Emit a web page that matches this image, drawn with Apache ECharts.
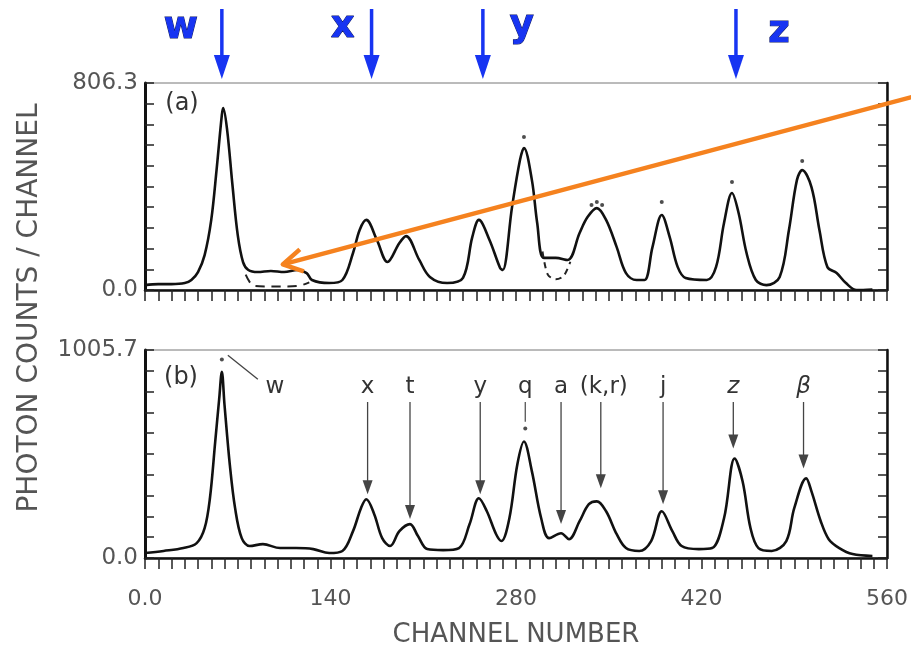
<!DOCTYPE html>
<html>
<head>
<meta charset="utf-8">
<script src="https://cdn.jsdelivr.net/npm/echarts@6/dist/echarts.min.js"></script>
<style>
  html, body { margin: 0; background: #fff; }
  #chart { width: 911px; height: 654px; }
</style>
</head>
<body>
<div id="chart"></div>
<script>
// panel (a): measured spectrum, channel / counts
const chA = [0,10,20,30,35,40,45,50,54,58,59,62,66,70,74,78,85,95,105,115,122,126,139,149,157,162,167,175,183,192,197,207,215,228,240,247,252,260,268,270,277,283,286,292,296,301,310,319,328,334,341,348,356,363,371,377,383,390,396,402,408,424,431,437,443,448,454,461,469,479,486,492,496,503,509,515,522,529,537,549]
const cntA = [19,23,23,27,39,70,136,273,467,682,709,623,409,214,109,78,70,74,70,78,66,39,27,39,144,234,273,195,109,183,210,117,51,27,47,206,273,195,86,78,323,506,553,428,261,125,125,117,222,284,319,273,167,66,39,39,167,292,206,90,47,39,90,261,378,300,144,39,19,51,234,428,467,401,234,90,66,27,0,2]
// panel (a): dashed fit where it leaves the data
const fitChA1 = [76,82,92,104,116,124]
const fitCntA1 = [60,16,14,14,16,30]
const fitChA2 = [300,304,310,316,321]
const fitCntA2 = [150,60,42,55,110]
// panel (a): single points above the peaks
const dotChA = [286,337,341,345,390,443,496]
const dotCntA = [596,331,343,331,343,421,502]

// panel (b)
const chB = [0,14,29,39,45,49,53,56,58,60,64,68,73,79,89,102,114,127,139,149,157,163,167,173,179,185,192,200,206,213,225,237,245,252,258,265,269,275,281,286,292,299,305,314,320,328,335,341,348,356,363,373,382,390,398,405,418,428,437,445,451,457,463,473,484,490,499,503,510,516,524,534,549]
const cntB = [24,34,48,72,144,289,563,770,900,741,452,241,96,58,67,48,48,43,24,34,130,241,284,212,96,58,130,164,106,43,38,48,164,289,226,115,82,192,452,563,419,192,96,120,91,178,260,274,226,115,48,34,82,226,130,58,43,48,192,481,371,144,48,34,82,241,385,322,178,91,48,19,10]
const dotChB = [58,287]
const dotCntB = [960,626]

// axes
const maxA = 806.3
const maxB = 1005.7
const xTickLabels = { 0: '0.0', 140: '140', 280: '280', 420: '420', 560: '560' }

// peak annotations
const topMarks = ['w', 'x', 'y', 'z']
const topMarkCh = [58, 171, 255, 446]
const bMarks = ['x', 't', 'y', 'q', 'a', '(k,r)', 'j', 'z', 'β']
const bMarkCh = [168, 200, 253, 287, 314, 344, 391, 444, 497]
const bMarkTip = [308, 188, 308, 659, 164, 337, 260, 529, 433]

const FONT = 'DejaVu Sans'
const pairs = (xs, ys) => xs.map((x, i) => [x, ys[i]])

const chart = echarts.init(document.getElementById('chart'))

function xAxisCfg(gi, labels) {
  return {
    type: 'value', gridIndex: gi, min: 0, max: 560, interval: 10,
    axisLine: { lineStyle: { color: '#111', width: 2.5 } },
    axisTick: { show: true, inside: false, length: 11, lineStyle: { color: '#222', width: 1.5 } },
    axisLabel: {
      show: labels, margin: 30, color: '#555', fontSize: 22, fontFamily: FONT,
      formatter: v => xTickLabels[v] || ''
    },
    splitLine: { show: false },
    name: labels ? 'CHANNEL NUMBER' : '',
    nameLocation: 'middle', nameGap: 64,
    nameTextStyle: { color: '#555', fontSize: 26, fontFamily: FONT }
  }
}

function yAxisCfg(gi, max, label, right) {
  return {
    type: 'value', gridIndex: gi, min: 0, max: max, interval: max / 10,
    position: right ? 'right' : 'left',
    axisLine: { show: true, lineStyle: { color: '#111', width: right ? 2.5 : 3 } },
    axisTick: { show: true, inside: true, length: 9, lineStyle: { color: '#222', width: 1.5 } },
    axisLabel: {
      show: !right, margin: 7, color: '#555', fontSize: 23, fontFamily: FONT,
      formatter: v => v === 0 ? '0.0' : (Math.abs(v - max) < 0.5 ? label : '')
    },
    splitLine: { show: false }
  }
}

const lineStyle = { color: '#111', width: 2.6 }

chart.setOption({
  animation: false,
  grid: [
    { left: 145, right: 24, top: 83, height: 207, show: true, borderColor: '#777', borderWidth: 1 },
    { left: 145, right: 24, top: 350, height: 208, show: true, borderColor: '#777', borderWidth: 1 }
  ],
  xAxis: [xAxisCfg(0, false), xAxisCfg(1, true)],
  yAxis: [
    yAxisCfg(0, maxA, '806.3', false),
    yAxisCfg(1, maxB, '1005.7', false),
    yAxisCfg(0, maxA, '', true),
    yAxisCfg(1, maxB, '', true)
  ],
  series: [
    { type: 'line', xAxisIndex: 0, yAxisIndex: 0, data: pairs(chA, cntA), smooth: 0.35, showSymbol: false, lineStyle },
    { type: 'line', xAxisIndex: 0, yAxisIndex: 0, data: pairs(fitChA1, fitCntA1), smooth: 0.3, showSymbol: false, lineStyle: { color: '#222', width: 2, type: [9, 7] } },
    { type: 'line', xAxisIndex: 0, yAxisIndex: 0, data: pairs(fitChA2, fitCntA2), smooth: 0.3, showSymbol: false, lineStyle: { color: '#222', width: 2, type: [6, 5] } },
    { type: 'scatter', xAxisIndex: 0, yAxisIndex: 0, data: pairs(dotChA, dotCntA), symbolSize: 4, itemStyle: { color: '#222' } },
    { type: 'line', xAxisIndex: 1, yAxisIndex: 1, data: pairs(chB, cntB), smooth: 0.35, showSymbol: false, lineStyle },
    { type: 'scatter', xAxisIndex: 1, yAxisIndex: 1, data: pairs(dotChB, dotCntB), symbolSize: 4, itemStyle: { color: '#222' } }
  ]
})

// annotations drawn on top, positioned through the axes
function arrowDown(x, y1, y2, color, lw, hl, hw) {
  return [
    { type: 'line', z: 100, shape: { x1: x, y1: y1, x2: x, y2: y2 - hl + 2 }, style: { stroke: color, lineWidth: lw } },
    { type: 'polygon', z: 100, shape: { points: [[x - hw, y2 - hl], [x + hw, y2 - hl], [x, y2]] }, style: { fill: color } }
  ]
}
function txt(x, y, s, size, fill, extra) {
  return {
    type: 'text', z: 101, x: x, y: y,
    style: Object.assign({ text: s, fontSize: size, fontFamily: FONT, fill: fill, align: 'center', verticalAlign: 'middle' }, extra || {})
  }
}

const g = []
const blue = '#1734f2'
const topOffsets = [-41, -29, 39, 43]
const topLabelY = [28, 27, 26, 32]
topMarks.forEach((m, i) => {
  const x = chart.convertToPixel({ gridIndex: 0 }, [topMarkCh[i], 0])[0]
  g.push(...arrowDown(x, 9, 79, blue, 3.5, 24, 8))
  g.push(txt(x + topOffsets[i], topLabelY[i], m, 37, blue, { fontWeight: 'bold', stroke: '#0b1660', lineWidth: 1 }))
})

bMarks.forEach((m, i) => {
  const p = chart.convertToPixel({ gridIndex: 1 }, [bMarkCh[i], bMarkTip[i]])
  if (m === 'q') {
    g.push({ type: 'line', z: 100, shape: { x1: p[0], y1: 402, x2: p[0], y2: p[1] }, style: { stroke: '#555', lineWidth: 1.3 } })
  } else {
    g.push(...arrowDown(p[0], 402, p[1], '#444', 1.3, 14, 5))
  }
  const italic = (m === 'z' || m === 'β') ? 'italic' : 'normal'
  g.push(txt(p[0] + (m === '(k,r)' ? 3 : 0), 387, m, 23, '#333', { fontStyle: italic }))
})

// w in panel (b)
const wTop = chart.convertToPixel({ gridIndex: 1 }, [58, 990])
g.push({ type: 'line', z: 100, shape: { x1: wTop[0] + 6, y1: wTop[1] + 2, x2: wTop[0] + 36, y2: wTop[1] + 26 }, style: { stroke: '#444', lineWidth: 1.3 } })
g.push(txt(wTop[0] + 53, 387, 'w', 23, '#333'))

// panel tags and y axis title
g.push(txt(182, 104, '(a)', 24, '#333'))
g.push(txt(181, 378, '(b)', 24, '#333'))
g.push({
  type: 'text', z: 101, x: 30, y: 308, rotation: Math.PI / 2,
  style: { text: 'PHOTON COUNTS / CHANNEL', fontSize: 28, fontFamily: FONT, fill: '#555', align: 'center', verticalAlign: 'middle' }
})

// orange pointer to the plateau after w
const tip = chart.convertToPixel({ gridIndex: 0 }, [104, 100])
const orange = '#f5821f'
g.push({ type: 'line', z: 102, shape: { x1: 912, y1: 97, x2: tip[0], y2: tip[1] }, style: { stroke: orange, lineWidth: 4.5 } })
g.push({ type: 'polyline', z: 102, shape: { points: [[tip[0] + 17, tip[1] - 15], [tip[0], tip[1]], [tip[0] + 21, tip[1] + 7]] }, style: { stroke: orange, lineWidth: 4.5, lineJoin: 'round' } })

chart.setOption({ graphic: g })
</script>
</body>
</html>
